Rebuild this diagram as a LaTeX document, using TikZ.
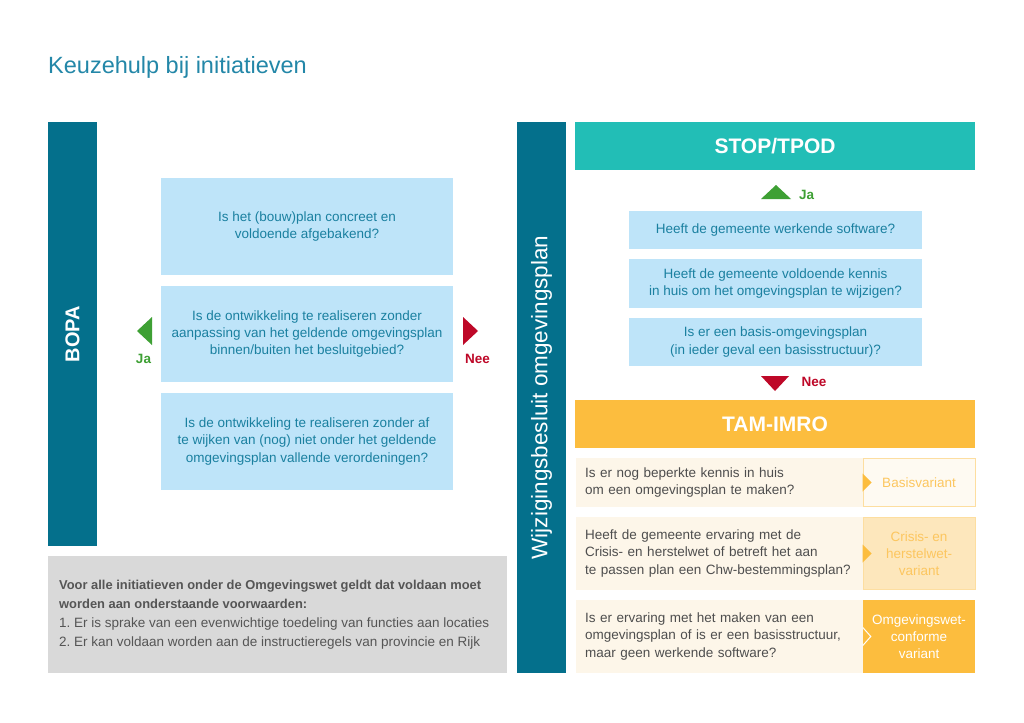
\documentclass[tikz,border=0pt]{standalone}
\usepackage{fontspec}
\setmainfont{Liberation Sans}
\definecolor{barteal}{RGB}{4,112,140}
\definecolor{titleteal}{RGB}{35,135,168}
\definecolor{qblue}{RGB}{190,228,249}
\definecolor{qtext}{RGB}{26,128,160}
\definecolor{stopteal}{RGB}{34,190,182}
\definecolor{tamorange}{RGB}{252,189,62}
\definecolor{cream}{RGB}{253,246,233}
\definecolor{lightorange}{RGB}{253,231,188}
\definecolor{orangeline}{RGB}{253,222,160}
\definecolor{orangetext}{RGB}{252,198,95}
\definecolor{rowtext}{RGB}{78,78,78}
\definecolor{notegray}{RGB}{217,217,217}
\definecolor{notetext}{RGB}{85,85,85}
\definecolor{jagreen}{RGB}{62,160,52}
\definecolor{neered}{RGB}{190,8,40}
\begin{document}
\begin{tikzpicture}[x=1pt,y=-1pt,
    qbox/.style={fill=qblue, text=qtext, align=center, inner sep=0pt, font=\fontsize{13.5}{17.3}\selectfont},
    sidebar/.style={fill=barteal, text=white, rotate=90, inner sep=0pt, minimum height=49pt},
    headbox/.style={text=white, minimum width=400pt, minimum height=48pt, inner sep=0pt, font=\fontsize{21}{24}\selectfont\bfseries},
    rowbox/.style={fill=cream, text=rowtext, align=left, text width=269pt, inner xsep=9pt, inner ysep=0pt, font=\fontsize{13.5}{17.3}\selectfont},
    varbox/.style={minimum width=112pt, align=center, inner sep=0pt, font=\fontsize{13.5}{17.3}\selectfont},
    answer/.style={font=\fontsize{13.5}{16}\selectfont\bfseries}]
        \useasboundingbox[fill=white] (0,0) rectangle (1024,722);
        \node[anchor=base west, text=titleteal, inner sep=0pt, font=\fontsize{23.5}{26}\selectfont] (title) at (48,74) {Keuzehulp bij initiatieven};
        % linkerkant: BOPA
        \node[sidebar, minimum width=424pt, font=\fontsize{20}{24}\selectfont\bfseries] (bopa) at (72.5,334) {BOPA};
        \node[qbox, minimum width=292pt, minimum height=97pt] (lq1) at (307,226.5) {Is het (bouw)plan concreet en\\voldoende afgebakend?};
        \node[qbox, minimum width=292pt, minimum height=96pt] (lq2) at (307,334) {Is de ontwikkeling te realiseren zonder\\aanpassing van het geldende omgevingsplan\\binnen/buiten het besluitgebied?};
        \node[qbox, minimum width=292pt, minimum height=97pt] (lq3) at (307,441.5) {Is de ontwikkeling te realiseren zonder af\\te wijken van (nog) niet onder het geldende\\omgevingsplan vallende verordeningen?};
        \fill[jagreen] (152,317) -- (137,331) -- (152,345) -- cycle;
        \node[answer, text=jagreen] (lja) at (143.5,359) {Ja};
        \fill[neered] (463,317) -- (478,331) -- (463,345) -- cycle;
        \node[answer, text=neered] (lnee) at (477.5,359) {Nee};
        \node[fill=notegray, minimum width=459pt, minimum height=117pt, inner sep=0pt] (note) at (277.5,614.5) {};
        \node[anchor=west, text=notetext, align=left, inner sep=0pt, font=\fontsize{13.5}{19}\selectfont] (notetxt) at (59,614.5)
            {{\fontsize{12.9}{19}\selectfont\bfseries Voor alle initiatieven onder de Omgevingswet geldt dat voldaan moet}\\{\fontsize{12.9}{19}\selectfont\bfseries worden aan onderstaande voorwaarden:}\\1.\ Er is sprake van een evenwichtige toedeling van functies aan locaties\\2.\ Er kan voldaan worden aan de instructieregels van provincie en Rijk};
        % rechterkant: wijzigingsbesluit
        \node[sidebar, minimum width=551pt, font=\fontsize{22.5}{26}\selectfont] (wijz) at (541.5,397.5) {Wijzigingsbesluit omgevingsplan};
        \node[headbox, fill=stopteal] (stop) at (775,146) {STOP/TPOD};
        \fill[jagreen] (761,199) -- (776,185) -- (791,199) -- cycle;
        \node[answer, text=jagreen] (rja) at (806.5,195) {Ja};
        \node[qbox, minimum width=293pt, minimum height=38pt] (rq1) at (775.5,230) {Heeft de gemeente werkende software?};
        \node[qbox, minimum width=293pt, minimum height=49pt] (rq2) at (775.5,283.5) {Heeft de gemeente voldoende kennis\\in huis om het omgevingsplan te wijzigen?};
        \node[qbox, minimum width=293pt, minimum height=48pt] (rq3) at (775.5,342) {Is er een basis-omgevingsplan\\(in ieder geval een basisstructuur)?};
        \fill[neered] (761,376) -- (775,391) -- (789,376) -- cycle;
        \node[answer, text=neered] (rnee) at (814,382) {Nee};
        \node[headbox, fill=tamorange] (tam) at (775,424) {TAM-IMRO};
        % varianten
        \node[rowbox, minimum height=49pt] (row1) at (719.5,482.5) {Is er nog beperkte kennis in huis\\om een omgevingsplan te maken?};
        \node[rowbox, minimum height=73pt] (row2) at (719.5,553.5) {Heeft de gemeente ervaring met de\\Crisis- en herstelwet of betreft het aan\\te passen plan een Chw-bestemmingsplan?};
        \node[rowbox, minimum height=73pt] (row3) at (719.5,636.5) {Is er ervaring met het maken van een\\omgevingsplan of is er een basisstructuur,\\maar geen werkende software?};
        \node[varbox, fill=cream!60!white, draw=orangeline, line width=1pt, text=orangetext, minimum height=48pt] (var1) at (919,482.5) {Basisvariant};
        \node[varbox, fill=lightorange, draw=orangeline, line width=1pt, text=orangetext, minimum height=72pt] (var2) at (919,553.5) {Crisis- en\\herstelwet-\\variant};
        \node[varbox, fill=tamorange, text=white, minimum height=73pt] (var3) at (919,636.5) {Omgevingswet-\\conforme\\variant};
        \fill[tamorange] (var1.west) ++(0,-9) -- ++(9,9) -- ++(-9,9) -- cycle;
        \fill[tamorange] (var2.west) ++(0,-9) -- ++(9,9) -- ++(-9,9) -- cycle;
        \draw[white, line width=1pt] (var3.west) ++(0,-9) -- ++(8,9) -- ++(-8,9);
    \end{tikzpicture}
\end{document}
